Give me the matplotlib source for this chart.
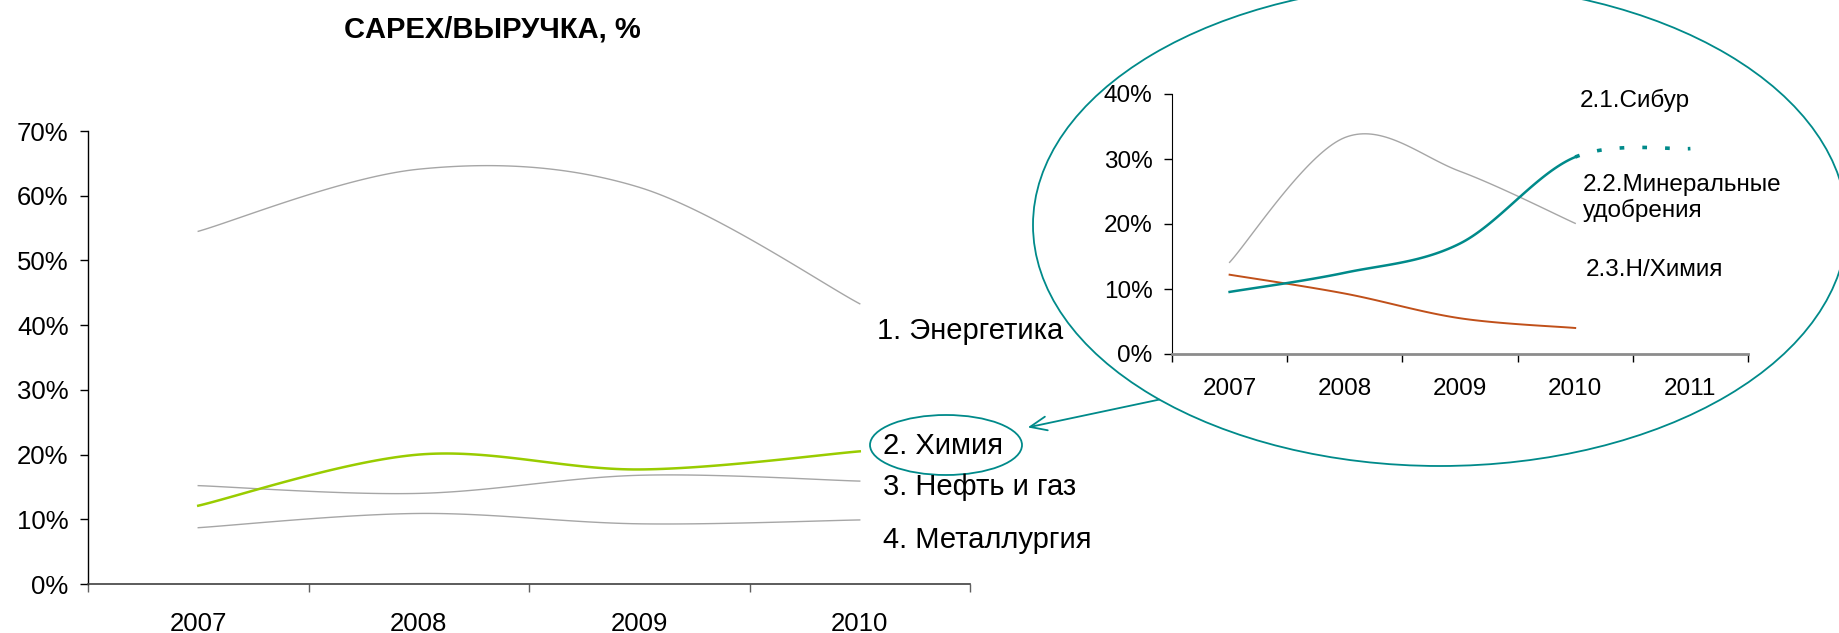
import numpy as np
import matplotlib
matplotlib.use("Agg")
import matplotlib.pyplot as plt
from matplotlib.patches import Ellipse

plt.rcParams['font.family'] = ['Liberation Sans', 'DejaVu Sans']

# ---------------- data ----------------
title = "CAPEX/ВЫРУЧКА, %"
years_main = ["2007", "2008", "2009", "2010"]
energy = [0.545, 0.641, 0.613, 0.433]
chem = [0.121, 0.200, 0.177, 0.205]
oilgas = [0.152, 0.140, 0.168, 0.159]
metal = [0.087, 0.109, 0.093, 0.099]
main_labels = ["1. Энергетика", "2. Химия", "3. Нефть и газ", "4. Металлургия"]

years_inset = ["2007", "2008", "2009", "2010", "2011"]
sibur = [0.141, 0.333, 0.281, 0.201]
fert = [0.0955, 0.125, 0.170, 0.303, 0.316]   # last point = forecast (dotted)
nchem = [0.122, 0.093, 0.055, 0.040]
inset_labels = ["2.1.Сибур", "2.2.Минеральные\nудобрения", "2.3.Н/Химия"]

GREY = "#A6A6A6"
GREEN = "#99CC00"
TEAL = "#008A8A"
BROWN = "#C0501A"

W, H = 1839, 633


def smooth_segments(y, n=40):
    """Excel-like Bezier smoothing; returns list of (x, y) arrays per segment."""
    y = np.asarray(y, float)
    x = np.arange(len(y), dtype=float)
    pts = np.column_stack([x, y])
    segs = []
    for i in range(len(y) - 1):
        p0 = pts[i - 1] if i > 0 else pts[i]
        p1, p2 = pts[i], pts[i + 1]
        p3 = pts[i + 2] if i + 2 < len(y) else pts[i + 1]
        c1 = p1 + (p2 - p0) / 6.0
        c2 = p2 - (p3 - p1) / 6.0
        t = np.linspace(0, 1, n)[:, None]
        b = (1 - t) ** 3 * p1 + 3 * (1 - t) ** 2 * t * c1 + 3 * (1 - t) * t ** 2 * c2 + t ** 3 * p2
        segs.append(b)
    return segs


def plot_smooth(ax, y, **kw):
    segs = smooth_segments(y)
    arr = np.vstack(segs)
    ax.plot(arr[:, 0], arr[:, 1], solid_joinstyle='round', **kw)


fig = plt.figure(figsize=(W / 100, H / 100), dpi=100)


def fx(px):
    return px / W


def fy(py):
    return 1 - py / H


# ---------------- main axes ----------------
ax = fig.add_axes([fx(88), fy(584), fx(970) - fx(88), fy(131) - fy(584)])
plot_smooth(ax, energy, color=GREY, lw=1.0)
plot_smooth(ax, oilgas, color=GREY, lw=1.0)
plot_smooth(ax, metal, color=GREY, lw=1.0)
plot_smooth(ax, chem, color=GREEN, lw=1.8)
ax.set_xlim(-0.5, len(years_main) - 0.5)
ax.set_ylim(0, 0.7)
ax.set_yticks(np.arange(0, 0.71, 0.1))
ax.set_yticklabels([f"{int(round(v * 100))}%" for v in np.arange(0, 0.71, 0.1)], fontsize=18.5)
ax.set_xticks(range(len(years_main)))
ax.set_xticklabels(years_main, fontsize=18.5)
ax.set_xticks(np.arange(-0.5, len(years_main)), minor=True)
ax.tick_params(axis='x', which='major', length=0, pad=20)
ax.tick_params(axis='x', which='minor', length=6, width=1, color="#606060", direction='out')
ax.tick_params(axis='y', length=6, width=1, direction='out', pad=8)
for s in ['top', 'right']:
    ax.spines[s].set_visible(False)
ax.spines['left'].set_color('black')
ax.spines['left'].set_linewidth(1.0)
ax.spines['bottom'].set_color('#404040')
ax.spines['bottom'].set_linewidth(1.2)
ax.patch.set_alpha(0)

fig.text(fx(492), fy(29), title, fontsize=21, fontweight='bold', ha='center', va='center')

label_pos = [(877, 331), (883, 446), (883, 487), (883, 540)]
for lab, (px, py) in zip(main_labels, label_pos):
    fig.text(fx(px), fy(py), lab, fontsize=21, ha='left', va='center')

# small ellipse around "2. Химия"
fig.patches.append(Ellipse((fx(946), fy(445)), fx(152), 60 / H, transform=fig.transFigure,
                           fill=False, edgecolor=TEAL, lw=1.3))
# big ellipse
fig.patches.append(Ellipse((fx(1440), fy(225)), fx(814), 482 / H, transform=fig.transFigure,
                           fill=False, edgecolor=TEAL, lw=1.3, clip_on=False))
# arrow
ax.annotate("", xy=(fx(1025), fy(428)), xycoords='figure fraction',
            xytext=(fx(1162), fy(399)), textcoords='figure fraction',
            arrowprops=dict(arrowstyle='->,head_length=1.2,head_width=0.5', color=TEAL, lw=1.3),
            annotation_clip=False)

# ---------------- inset axes ----------------
ai = fig.add_axes([fx(1172), fy(354), fx(1748) - fx(1172), fy(94) - fy(354)])
plot_smooth(ai, sibur, color=GREY, lw=1.0)
plot_smooth(ai, nchem, color=BROWN, lw=1.4)
fsegs = smooth_segments(fert)
solid = np.vstack(fsegs[:-1])
ai.plot(solid[:, 0], solid[:, 1], color=TEAL, lw=1.8)
dot = fsegs[-1]
ai.plot(dot[:, 0], dot[:, 1], color=TEAL, lw=2.6, linestyle=(0, (1.3, 5.0)), dash_capstyle='butt')
ai.set_xlim(-0.5, len(years_inset) - 0.5)
ai.set_ylim(0, 0.4)
ai.set_yticks(np.arange(0, 0.41, 0.1))
ai.set_yticklabels([f"{int(round(v * 100))}%" for v in np.arange(0, 0.41, 0.1)], fontsize=17.5)
ai.set_xticks(range(len(years_inset)))
ai.set_xticklabels(years_inset, fontsize=17.5)
ai.set_xticks(np.arange(-0.5, len(years_inset)), minor=True)
ai.tick_params(axis='x', which='major', length=0, pad=17.5)
ai.tick_params(axis='x', which='minor', length=6, width=1, color='black', direction='out')
ai.tick_params(axis='y', length=6, width=1, direction='out', pad=8)
for s in ['top', 'right']:
    ai.spines[s].set_visible(False)
ai.spines['left'].set_color('black')
ai.spines['bottom'].set_color('#8C8C8C')
ai.spines['bottom'].set_linewidth(2.0)
ai.patch.set_alpha(0)

inset_pos = [(1580, 100), (1583, 198), (1586, 270)]
for lab, (px, py) in zip(inset_labels, inset_pos):
    fig.text(fx(px), fy(py), lab, fontsize=17.5, ha='left', va='center', linespacing=1.2)

fig.savefig("out.png", dpi=100)
